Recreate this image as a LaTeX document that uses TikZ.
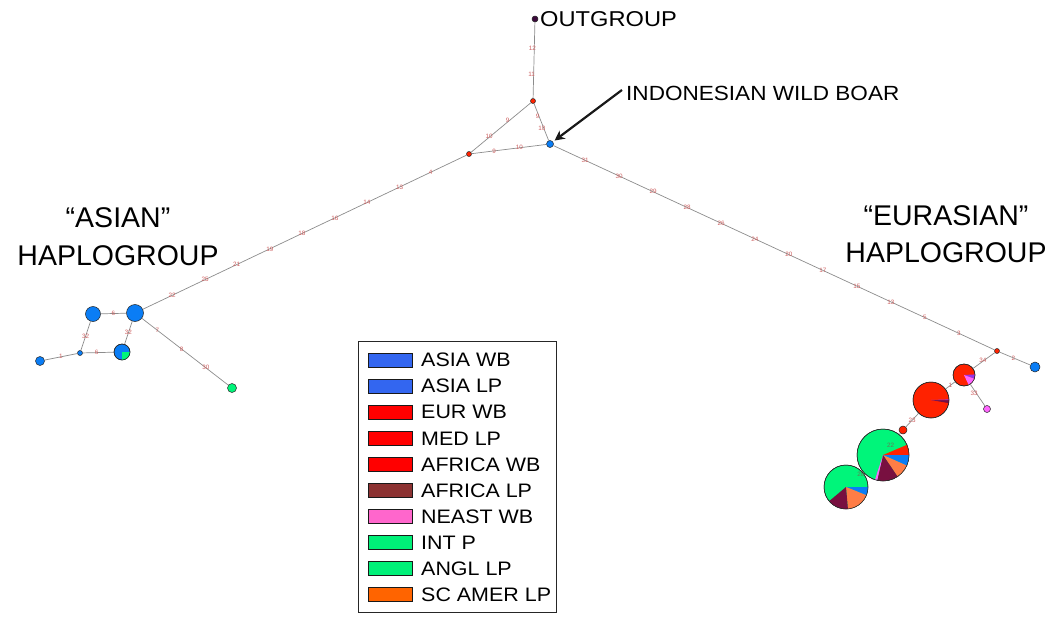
\documentclass[tikz,border=0pt]{standalone}
\usepackage{fontspec}
\setmainfont{Liberation Sans}
\newfontfamily\wfont[FakeStretch=1.1]{Liberation Sans}
\usetikzlibrary{arrows.meta}
\definecolor{edgegray}{RGB}{140,140,140}
\definecolor{labred}{RGB}{205,95,95}
\definecolor{nblue}{RGB}{10,125,245}
\definecolor{nred}{RGB}{255,34,0}
\definecolor{nmaroon}{RGB}{120,16,64}
\definecolor{ngreen}{RGB}{0,245,122}
\definecolor{norange}{RGB}{255,125,70}
\definecolor{npink}{RGB}{255,102,255}
\definecolor{npurple}{RGB}{150,50,230}
\definecolor{ndark}{RGB}{60,10,60}
\definecolor{lblue}{RGB}{51,102,240}
\definecolor{lred}{RGB}{255,0,0}
\definecolor{lmaroon}{RGB}{140,50,50}
\definecolor{lpink}{RGB}{255,102,204}
\definecolor{lgreen}{RGB}{0,240,120}
\definecolor{lorange}{RGB}{255,100,0}
\newcommand{\wedgefill}[5]{\fill[#1] (#2) -- ++(#3:#5) arc[start angle=#3, end angle=#4, radius=#5] -- cycle;}
\begin{document}
\begin{tikzpicture}[x=1pt,y=1pt,
  edge/.style={draw=edgegray, line width=0.7pt},
  hap/.style={circle, draw=black!85, line width=0.5pt, inner sep=0pt, minimum size=#1},
  elab/.style={font=\fontsize{6.3}{7}\selectfont, text=labred, inner sep=0.5pt},
  outl/.style={draw=black!85, line width=0.5pt},
  bigtxt/.style={font=\fontsize{28.5}{32}\selectfont, anchor=base, inner sep=0pt},
  midtxt/.style={font=\wfont\fontsize{20.5}{24}\selectfont, anchor=base west, inner sep=0pt},
  legtxt/.style={font=\wfont\fontsize{19.5}{22}\selectfont, anchor=west, inner sep=0pt},
  swatch/.style={draw=black!90, line width=1pt, minimum width=44pt, minimum height=14pt, inner sep=0pt}]
\useasboundingbox (0,0) rectangle (1050,-618);

% haplotype nodes
\node[hap=6pt, fill=ndark] (OG) at (535,-19) {};
\node[hap=5pt, fill=nred] (A) at (533,-101) {};
\node[hap=7pt, fill=nblue] (IN) at (550,-144) {};
\node[hap=5pt, fill=nred] (B) at (469,-154) {};
\node[hap=17pt, fill=nblue] (H1) at (135,-313) {};
\node[hap=15pt, fill=nblue] (H2) at (93,-314) {};
\node[hap=5pt, fill=nblue] (H3) at (80,-353) {};
\node[hap=9pt, fill=nblue] (H4) at (40,-361) {};
\node[hap=16pt, fill=nblue] (H5) at (122,-352) {};
\node[hap=9pt, fill=ngreen] (H6) at (232,-388) {};
\node[hap=5pt, fill=nred] (E) at (997,-351) {};
\node[hap=10pt, fill=nblue] (L) at (1035,-367) {};
\node[hap=22pt, fill=nred] (R1) at (964,-375) {};
\node[hap=7pt, fill=npink] (PK) at (987,-409) {};
\node[hap=36pt, fill=nred] (R2) at (931,-400) {};
\node[hap=8pt, fill=nred] (R3) at (903,-430) {};
\node[hap=52pt, fill=ngreen] (G1) at (883,-455) {};
\node[hap=44pt, fill=ngreen] (G2) at (846,-487) {};

% edges
\draw[edge] (OG) -- (A);
\draw[edge] (A) -- (IN);
\draw[edge] (A) -- (B);
\draw[edge] (B) -- (IN);
\draw[edge] (B) -- (H1);
\draw[edge] (IN) -- (E);
\draw[edge] (H1) -- (H2);
\draw[edge] (H2) -- (H3);
\draw[edge] (H3) -- (H4);
\draw[edge] (H3) -- (H5);
\draw[edge] (H5) -- (H1);
\draw[edge] (H1) -- (H6);
\draw[edge] (E) -- (L);
\draw[edge] (E) -- (R1);
\draw[edge] (R1) -- (PK);
\draw[edge] (R1) -- (R2);
\draw[edge] (R2) -- (R3);
\draw[edge] (R3) -- (G1);
\draw[edge] (G1) -- (G2);

% pie slices
\wedgefill{ngreen}{H5.center}{-90}{0}{8pt}
\wedgefill{npurple}{R1.center}{-20}{3}{11pt}
\wedgefill{npink}{R1.center}{-65}{-20}{11pt}
\wedgefill{nmaroon}{R2.center}{-10}{0}{18pt}
\wedgefill{npurple}{R2.center}{0}{2}{18pt}
\wedgefill{nred}{G1.center}{0}{23}{26pt}
\wedgefill{nblue}{G1.center}{-24}{0}{26pt}
\wedgefill{norange}{G1.center}{-56}{-24}{26pt}
\wedgefill{nmaroon}{G1.center}{-103}{-56}{26pt}
\wedgefill{npink}{G1.center}{-108}{-103}{26pt}
\wedgefill{nblue}{G2.center}{-22}{0}{22pt}
\wedgefill{norange}{G2.center}{-85}{-22}{22pt}
\wedgefill{nmaroon}{G2.center}{-140}{-85}{22pt}
\draw[outl] (H5.center) circle[radius=8pt];
\draw[outl] (R1.center) circle[radius=11pt];
\draw[outl] (R2.center) circle[radius=18pt];
\draw[outl] (G1.center) circle[radius=26pt];
\draw[outl] (G2.center) circle[radius=22pt];

% edge labels
\path (OG) -- (A) node[elab, pos=0.34, xshift=-2pt] {12} node[elab, pos=0.68, xshift=-2pt] {11};
\path (A) -- (IN) node[elab, pos=0.35, xshift=-1.5pt] {9} node[elab, pos=0.68, xshift=-2pt] {10};
\path (A) -- (B) node[elab, pos=0.39, yshift=1.5pt] {9} node[elab, pos=0.70, yshift=1.5pt] {10};
\path (B) -- (IN) node[elab, pos=0.30] {9} node[elab, pos=0.64] {10};
\path (B) -- (H1)
  node[elab, pos=0.111] {4} node[elab, pos=0.207] {13} node[elab, pos=0.308] {14}
  node[elab, pos=0.407] {16} node[elab, pos=0.509] {18} node[elab, pos=0.608] {19}
  node[elab, pos=0.710] {21} node[elab, pos=0.808] {25} node[elab, pos=0.910] {22};
\path (IN) -- (E)
  node[elab, pos=0.072] {31} node[elab, pos=0.149] {30} node[elab, pos=0.226] {29}
  node[elab, pos=0.303] {28} node[elab, pos=0.380] {26} node[elab, pos=0.457] {24}
  node[elab, pos=0.534] {20} node[elab, pos=0.611] {17} node[elab, pos=0.688] {15}
  node[elab, pos=0.765] {13} node[elab, pos=0.842] {5} node[elab, pos=0.919] {3};
\path (H1) -- (H2) node[elab, midway] {6};
\path (H2) -- (H3) node[elab, midway] {32};
\path (H3) -- (H4) node[elab, midway] {1};
\path (H3) -- (H5) node[elab, pos=0.45] {6};
\path (H5) -- (H1) node[elab, midway] {32};
\path (H1) -- (H6) node[elab, pos=0.18] {7} node[elab, pos=0.46] {8} node[elab, pos=0.74] {30};
\path (E) -- (L) node[elab, pos=0.45] {2};
\path (E) -- (R1) node[elab, pos=0.55, yshift=1pt] {34};
\path (R1) -- (PK) node[elab, pos=0.4, xshift=-2pt] {33};
\path (R1) -- (R2) node[elab, midway] {1};
\path (R2) -- (R3) node[elab, midway] {23};
\path (R3.center) -- (G1.center) node[elab, pos=0.62, text=labred!60!ngreen!80!black] {22};
\path (G1.center) -- (G2.center) node[elab, pos=0.6, text=labred!60!ngreen!80!black] {28};

% titles
\node[midtxt, font=\wfont\fontsize{21.5}{24}\selectfont] (og) at (540,-27) {OUTGROUP};
\node[midtxt] (indo) at (626,-100) {INDONESIAN WILD BOAR};
\path (indo.west) ++(-4pt,3pt) coordinate (arrtail);
\draw[-{Stealth[length=10pt,width=10pt]}, line width=2.2pt, black!90, shorten >=2pt] (arrtail) -- (IN);
\node[bigtxt] (as1) at (118,-227) {“ASIAN”};
\node[bigtxt] (as2) at (118,-265) {HAPLOGROUP};
\node[bigtxt] (eu1) at (946,-225) {“EURASIAN”};
\node[bigtxt] (eu2) at (946,-262) {HAPLOGROUP};

% legend
\node[draw=black!85, line width=0.9pt, minimum width=198pt, minimum height=271pt, anchor=north west, inner sep=0pt] (legbox) at (358,-341) {};
\foreach \i/\c/\t in {0/lblue/ASIA WB, 1/lblue/ASIA LP, 2/lred/EUR WB, 3/lred/MED LP, 4/lred/AFRICA WB, 5/lmaroon/AFRICA LP, 6/lpink/NEAST WB, 7/lgreen/INT P, 8/lgreen/ANGL LP, 9/lorange/SC AMER LP} {
  \node[swatch, fill=\c] (sw\i) at (390,-360-26.1*\i) {};
  \node[legtxt] (lt\i) at (421,-360-26.1*\i) {\t};
}
\end{tikzpicture}
\end{document}
